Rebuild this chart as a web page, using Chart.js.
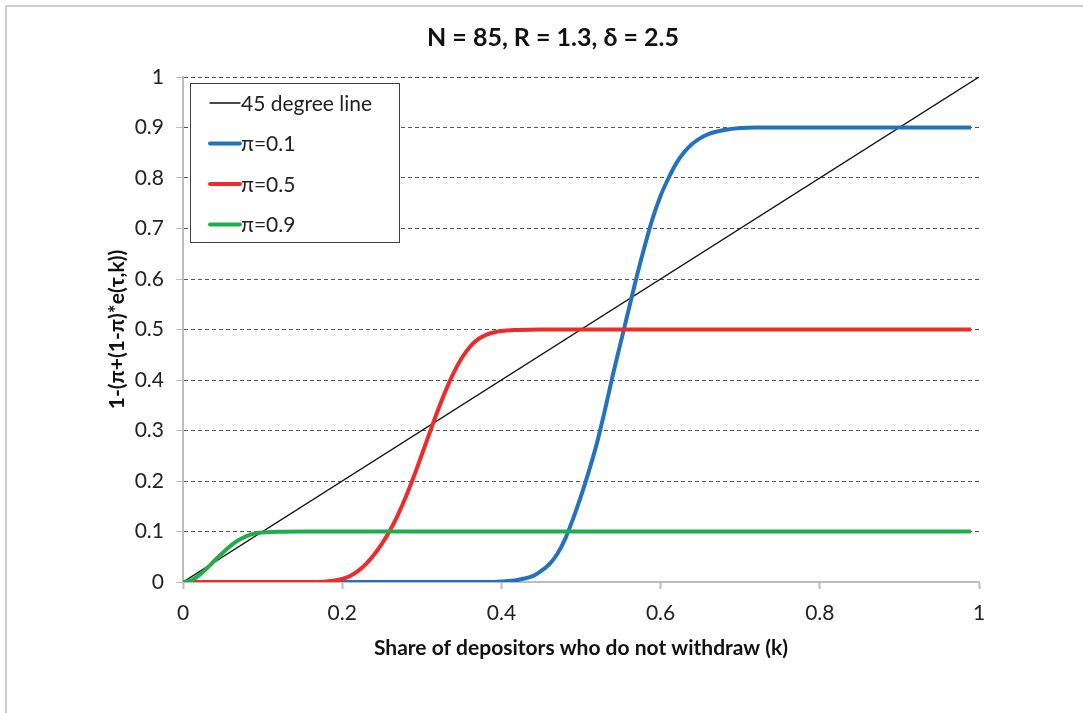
<!DOCTYPE html>
<html>
<head>
<meta charset="utf-8">
<script src="https://cdn.jsdelivr.net/npm/chart.js@4/dist/chart.umd.min.js"></script>
<style>
    html, body { margin: 0; padding: 0; background: #fff; }
    #wrap { position: absolute; left: 0; top: 0; width: 1083px; height: 713px; }
    #frame { position: absolute; left: 5px; top: 5px; width: 1100px; height: 720px; border: 2px solid #cfcfcf; box-sizing: border-box; }
    #chart { position: absolute; left: 0; top: 0; }
</style>
</head>
<body>
<div id="wrap">
    <div id="frame"></div>
    <canvas id="chart" width="1083" height="713"></canvas>
</div>
<script>
// Tiêu đề và nhãn trục
const chartTitle = 'N = 85, R = 1.3, δ = 2.5';
const xAxisTitle = 'Share of depositors who do not withdraw (k)';
const yAxisTitle = '1-(π+(1-π)*e(τ,k))';

// Đường 45 độ
const lineK = [0, 1];
const lineY = [0, 1];

// π = 0.1
const blueK = [0, 0.38, 0.40, 0.42, 0.44, 0.45, 0.46, 0.47, 0.48, 0.49, 0.50, 0.51, 0.52, 0.53, 0.54, 0.55, 0.56, 0.57, 0.58, 0.59, 0.60, 0.61, 0.62, 0.63, 0.64, 0.65, 0.66, 0.68, 0.70, 0.72, 0.99];
const blueY = [0, 0.000, 0.001, 0.004, 0.012, 0.022, 0.035, 0.055, 0.085, 0.125, 0.17, 0.22, 0.275, 0.34, 0.41, 0.475, 0.54, 0.605, 0.665, 0.72, 0.765, 0.80, 0.83, 0.852, 0.868, 0.879, 0.887, 0.895, 0.899, 0.9, 0.9];

// π = 0.5
const redK = [0, 0.16, 0.18, 0.20, 0.21, 0.22, 0.23, 0.24, 0.25, 0.26, 0.27, 0.28, 0.29, 0.30, 0.31, 0.32, 0.33, 0.34, 0.35, 0.36, 0.37, 0.38, 0.39, 0.40, 0.42, 0.45, 0.99];
const redY = [0, 0.000, 0.001, 0.006, 0.012, 0.022, 0.036, 0.054, 0.076, 0.102, 0.133, 0.169, 0.209, 0.252, 0.296, 0.339, 0.379, 0.414, 0.443, 0.465, 0.48, 0.489, 0.494, 0.497, 0.499, 0.5, 0.5];

// π = 0.9
const greenK = [0, 0.01, 0.02, 0.03, 0.04, 0.05, 0.06, 0.07, 0.08, 0.09, 0.10, 0.12, 0.15, 0.99];
const greenY = [0, 0.003, 0.013, 0.027, 0.043, 0.058, 0.072, 0.083, 0.091, 0.096, 0.098, 0.0995, 0.1, 0.1];

const seriesLabels = ['45 degree line', 'π=0.1', 'π=0.5', 'π=0.9'];
const seriesColors = ['#111111', '#2372bf', '#ef2a2a', '#22ad4c'];
const seriesWidths = [1.4, 4, 4, 4];

const FONT = 'Lato, Carlito, Calibri, "Open Sans", sans-serif';

function toPoints(xs, ys) {
    return xs.map((x, i) => ({ x: x, y: ys[i] }));
}

// Legend đặt trong vùng vẽ, góc trên bên trái
const boxLegend = {
    id: 'boxLegend',
    afterDraw(chart) {
        const ctx = chart.ctx;
        const ca = chart.chartArea;
        const left = ca.left + 7, top = ca.top + 6, w = 209, h = 159;
        ctx.save();
        ctx.fillStyle = '#fff';
        ctx.fillRect(left, top, w, h);
        ctx.strokeStyle = '#404040';
        ctx.lineWidth = 1;
        ctx.strokeRect(left + 0.5, top + 0.5, w, h);
        ctx.font = '21px ' + FONT;
        ctx.textBaseline = 'middle';
        ctx.fillStyle = '#222';
        seriesLabels.forEach((label, i) => {
            const y = top + 20 + i * 40.5;
            ctx.beginPath();
            ctx.strokeStyle = seriesColors[i];
            ctx.lineWidth = seriesWidths[i];
            ctx.lineCap = 'round';
            ctx.moveTo(left + 20, y);
            ctx.lineTo(left + 50, y);
            ctx.stroke();
            ctx.fillText(label, left + 51, y + 1);
        });
        ctx.restore();
    }
};

// Tiêu đề vẽ tay để căn giữa theo khung hình
const titleText = {
    id: 'titleText',
    afterDraw(chart) {
        const ctx = chart.ctx;
        ctx.save();
        ctx.font = 'bold 25px ' + FONT;
        ctx.fillStyle = '#111';
        ctx.textAlign = 'center';
        ctx.textBaseline = 'middle';
        ctx.fillText(chartTitle, 553, 38);
        ctx.restore();
    }
};

const ctx = document.getElementById('chart').getContext('2d');
new Chart(ctx, {
    type: 'scatter',
    data: {
        datasets: [
            { label: seriesLabels[0], data: toPoints(lineK, lineY), order: 4 },
            { label: seriesLabels[1], data: toPoints(blueK, blueY), order: 3 },
            { label: seriesLabels[2], data: toPoints(redK, redY), order: 2 },
            { label: seriesLabels[3], data: toPoints(greenK, greenY), order: 1 }
        ].map((d, i) => Object.assign(d, {
            showLine: true,
            borderColor: seriesColors[i],
            borderWidth: seriesWidths[i],
            pointRadius: 0,
            pointHoverRadius: 0,
            cubicInterpolationMode: 'monotone',
            borderCapStyle: 'butt',
            fill: false
        }))
    },
    options: {
        responsive: false,
        animation: false,
        layout: {
            padding: { top: 77, right: 104, bottom: 52, left: 105 }
        },
        scales: {
            x: {
                type: 'linear',
                min: 0,
                max: 1,
                afterFit: function(scale) { scale.height = 79; },
                afterBuildTicks: function(scale) {
                    scale.ticks = [0, 0.2, 0.4, 0.6, 0.8, 1].map(v => ({ value: v }));
                },
                border: { display: true, color: '#bdbdbd', width: 2 },
                grid: {
                    drawOnChartArea: false,
                    drawTicks: true,
                    tickLength: 7,
                    tickColor: '#bdbdbd',
                    tickWidth: 2
                },
                ticks: {
                    color: '#222',
                    padding: 12,
                    maxRotation: 0,
                    font: { size: 21, family: FONT },
                    callback: v => String(Math.round(v * 10) / 10)
                },
                title: {
                    display: true,
                    text: xAxisTitle,
                    color: '#111',
                    padding: { top: 0, bottom: 0 },
                    font: { size: 21, weight: 'bold', family: FONT }
                }
            },
            y: {
                type: 'linear',
                min: 0,
                max: 1,
                afterFit: function(scale) { scale.width = 78; },
                afterBuildTicks: function(scale) {
                    const vals = [0, 0.1, 0.2, 0.3, 0.4, 0.5, 0.6, 0.7, 0.8, 0.9, 1];
                    scale.ticks = vals.map(v => ({ value: v }));
                },
                border: { display: true, color: '#bdbdbd', width: 2, dash: [4, 3] },
                grid: {
                    drawTicks: true,
                    tickLength: 7,
                    tickColor: '#bdbdbd',
                    tickBorderDash: [],
                    color: c => (c.tick && c.tick.value === 0) ? 'rgba(0,0,0,0)' : '#555',
                    lineWidth: 1
                },
                ticks: {
                    color: '#222',
                    padding: 12,
                    font: { size: 21, family: FONT },
                    callback: v => String(Math.round(v * 10) / 10)
                },
                title: {
                    display: true,
                    text: yAxisTitle,
                    color: '#111',
                    padding: { top: 0, bottom: 0 },
                    font: { size: 21, weight: 'bold', family: FONT }
                }
            }
        },
        plugins: {
            legend: { display: false },
            tooltip: { enabled: false }
        }
    },
    plugins: [boxLegend, titleText]
});
</script>
</body>
</html>
